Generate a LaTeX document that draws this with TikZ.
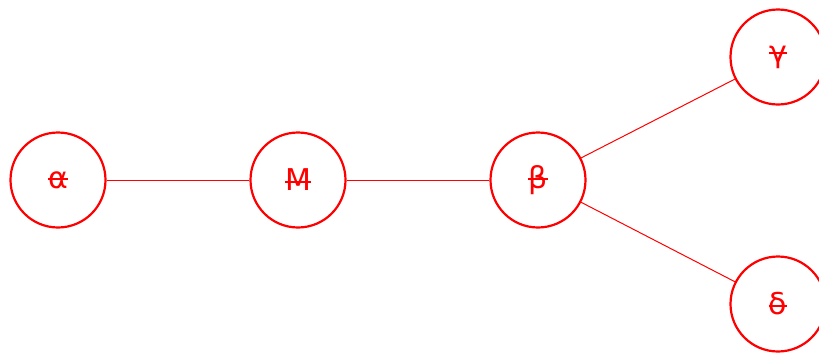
\documentclass[tikz,border=0pt]{standalone}
\usepackage{fontspec}
\setmainfont{DejaVu Sans}
% struck-through label: a bar laid over the glyph at mid x-height
\newcommand\strk[1]{\setbox0\hbox{#1}\rlap{\raisebox{8pt}{\rule{\wd0}{2.4pt}}}\box0}
\tikzset{
  vtx/.style={circle, draw=red, line width=2.2pt, minimum size=95pt, inner sep=0pt,
    text=red, font=\fontsize{30}{33}\selectfont},
  link/.style={draw=red, line width=1pt}
}
\begin{document}
\begin{tikzpicture}[x=1pt,y=-1pt]
  \useasboundingbox (0,0) rectangle (819,354);
  \node[vtx] (a) at (58,180) {\strk{α}};
  \node[vtx] (m) at (298,180) {\strk{M}};
  \node[vtx] (b) at (538,180) {\strk{β}};
  \node[vtx] (g) at (778,57) {\strk{γ}};
  \node[vtx] (d) at (778,304) {\strk{δ}};
  \draw[link] (a) -- (m);
  \draw[link] (m) -- (b);
  \draw[link] (b) -- (g);
  \draw[link] (b) -- (d);
\end{tikzpicture}
\end{document}
